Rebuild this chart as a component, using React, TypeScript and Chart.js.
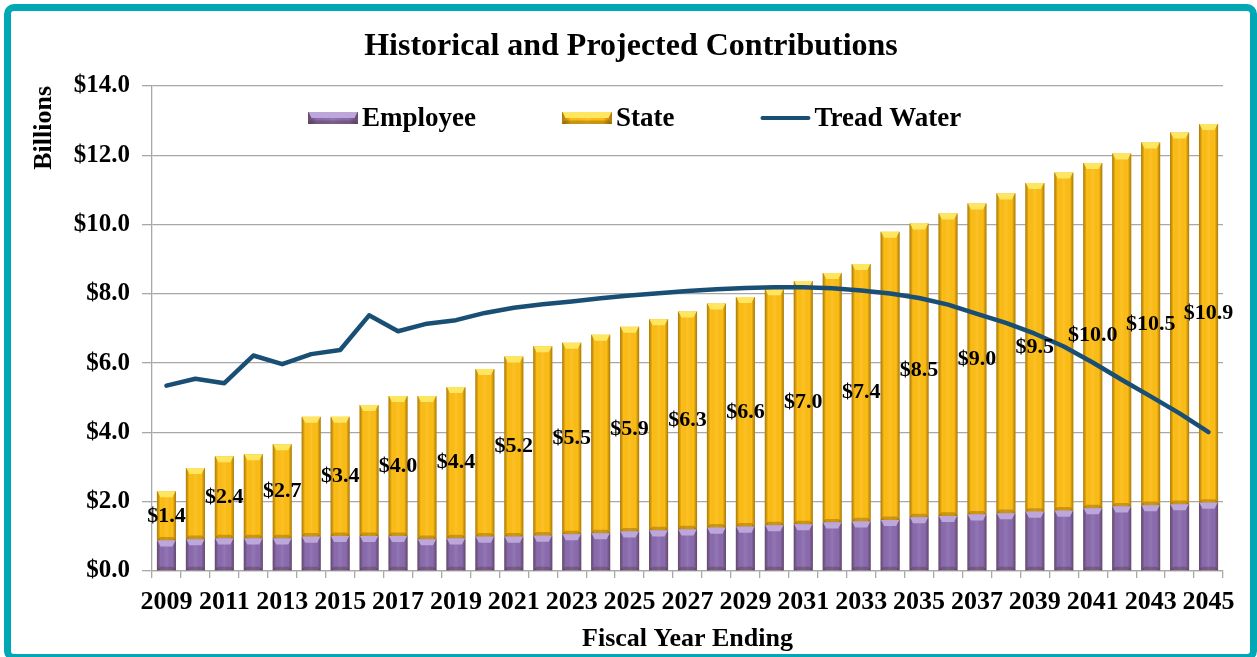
import React, { useEffect, useRef } from 'react';
import { Chart, registerables } from 'chart.js';

Chart.register(...registerables);

// ---------- data ----------
const years = [
  '2009', '2010', '2011', '2012', '2013', '2014', '2015', '2016', '2017', '2018',
  '2019', '2020', '2021', '2022', '2023', '2024', '2025', '2026', '2027', '2028',
  '2029', '2030', '2031', '2032', '2033', '2034', '2035', '2036', '2037', '2038',
  '2039', '2040', '2041', '2042', '2043', '2044', '2045',
];

const employee = [
  0.88, 0.92, 0.94, 0.94, 0.94, 0.99, 1.01, 1.01, 1.01, 0.92,
  0.94, 0.99, 0.99, 1.02, 1.06, 1.09, 1.14, 1.17, 1.20, 1.25,
  1.28, 1.32, 1.35, 1.40, 1.43, 1.47, 1.55, 1.59, 1.63, 1.67,
  1.71, 1.74, 1.81, 1.86, 1.90, 1.93, 1.97,
];

const state = [
  1.42, 2.05, 2.37, 2.43, 2.72, 3.46, 3.44, 3.78, 4.04, 4.13,
  4.37, 4.84, 5.20, 5.47, 5.53, 5.73, 5.91, 6.10, 6.29, 6.47,
  6.63, 6.81, 7.02, 7.20, 7.43, 8.32, 8.48, 8.73, 8.98, 9.23,
  9.49, 9.76, 9.97, 10.19, 10.47, 10.73, 10.93,
];

const treadWater = [
  5.35, 5.55, 5.42, 6.22, 5.97, 6.26, 6.38, 7.38, 6.92, 7.14,
  7.24, 7.45, 7.60, 7.70, 7.78, 7.87, 7.95, 8.02, 8.08, 8.13,
  8.17, 8.19, 8.19, 8.16, 8.10, 8.01, 7.88, 7.69, 7.42, 7.16,
  6.85, 6.48, 6.02, 5.52, 5.04, 4.55, 4.01,
];

const yMin = 0;
const yMax = 14;
const yStep = 2;

const titleText = 'Historical and Projected Contributions';
const yTitle = 'Billions';
const xTitle = 'Fiscal Year Ending';
const seriesNames = ['Employee', 'State', 'Tread Water'];

// ---------- styles ----------
const FONT = '"Liberation Serif", "Times New Roman", serif';
const PURPLE = '#8A6BAE';
const PURPLE_LIGHT = '#BCA6DA';
const GOLD = '#FDBD14';
const GOLD_LIGHT = '#FFE660';
const LINE = '#1A4F75';
const GRID = '#A8A8A8';
const FRAME = '#00A8B5';

const bevelLight: Record<string, string> = { Employee: PURPLE_LIGHT, State: GOLD_LIGHT };

function drawBevelRect(ctx: CanvasRenderingContext2D, l: number, top: number, w: number, h: number, light: string) {
  const r = l + w;
  const bot = top + h;
  const g = ctx.createLinearGradient(l, 0, r, 0);
  g.addColorStop(0, 'rgba(60,30,0,0.42)');
  g.addColorStop(0.18, 'rgba(0,0,0,0.0)');
  g.addColorStop(0.5, 'rgba(255,255,255,0.08)');
  g.addColorStop(0.82, 'rgba(0,0,0,0.0)');
  g.addColorStop(1, 'rgba(60,30,0,0.42)');
  ctx.fillStyle = g;
  ctx.fillRect(l, top, w, h);
  const bh = Math.min(6, h / 2);
  ctx.fillStyle = light;
  ctx.beginPath();
  ctx.moveTo(l + 0.5, top);
  ctx.lineTo(r - 0.5, top);
  ctx.lineTo(r - 3.5, top + bh);
  ctx.lineTo(l + 3.5, top + bh);
  ctx.closePath();
  ctx.fill();
  ctx.fillStyle = 'rgba(60,30,0,0.25)';
  ctx.beginPath();
  ctx.moveTo(l, bot);
  ctx.lineTo(r, bot);
  ctx.lineTo(r - 3, bot - bh * 0.6);
  ctx.lineTo(l + 3, bot - bh * 0.6);
  ctx.closePath();
  ctx.fill();
}

const bevelPlugin = {
  id: 'bevel',
  afterDatasetDraw(chart: any, args: any) {
    const ds = chart.data.datasets[args.index];
    if (ds.type !== 'bar') return;
    const light = bevelLight[ds.label];
    const ctx = chart.ctx as CanvasRenderingContext2D;
    ctx.save();
    args.meta.data.forEach((el: any) => {
      const p = el.getProps(['x', 'y', 'base', 'width'], true);
      const top = Math.min(p.y, p.base);
      const h = Math.abs(p.base - p.y);
      drawBevelRect(ctx, p.x - p.width / 2, top, p.width, h, light);
    });
    ctx.restore();
  },
};

const decorPlugin = {
  id: 'decor',
  afterDatasetsDraw(chart: any) {
    // data labels: state value, every other year, centred in the state segment
    const ctx = chart.ctx as CanvasRenderingContext2D;
    const yScale = chart.scales.y;
    const xScale = chart.scales.x;
    ctx.save();
    ctx.font = `bold 22px ${FONT}`;
    ctx.fillStyle = '#000';
    ctx.textAlign = 'center';
    ctx.textBaseline = 'middle';
    for (let i = 0; i < years.length; i += 2) {
      const x = xScale.getPixelForValue(i);
      const y = yScale.getPixelForValue(employee[i] + state[i] / 2);
      ctx.fillText('$' + state[i].toFixed(1), x, y);
    }
    ctx.restore();
  },
  afterDraw(chart: any) {
    const ctx = chart.ctx as CanvasRenderingContext2D;
    ctx.save();
    // title
    ctx.font = `bold 32px ${FONT}`;
    ctx.fillStyle = '#000';
    ctx.textAlign = 'center';
    ctx.textBaseline = 'middle';
    ctx.fillText(titleText, 631, 47);

    // legend
    ctx.font = `bold 27px ${FONT}`;
    ctx.textAlign = 'left';
    const ly = 118;
    let x = 308;
    const boxW = 50;
    const boxH = 12;
    const fills = [PURPLE, GOLD];
    const lights = [PURPLE_LIGHT, GOLD_LIGHT];
    seriesNames.forEach((name, i) => {
      if (i < 2) {
        ctx.fillStyle = fills[i];
        ctx.fillRect(x, ly - boxH / 2, boxW, boxH);
        ctx.save();
        drawBevelRect(ctx, x, ly - boxH / 2, boxW, boxH, lights[i]);
        ctx.restore();
      } else {
        ctx.strokeStyle = LINE;
        ctx.lineWidth = 4;
        ctx.lineCap = 'round';
        ctx.beginPath();
        ctx.moveTo(x + 2, ly);
        ctx.lineTo(x + boxW - 2, ly);
        ctx.stroke();
      }
      ctx.fillStyle = '#000';
      ctx.fillText(name, x + boxW + 4, ly + 1);
      x += boxW + 4 + ctx.measureText(name).width + 86;
    });
    ctx.restore();
  },
};

export default function App() {
  const ref = useRef<HTMLCanvasElement>(null);

  useEffect(() => {
    const canvas = ref.current;
    if (!canvas) return;
    const chart = new Chart(canvas, {
      type: 'bar',
      data: {
        labels: years,
        datasets: [
          {
            type: 'line',
            label: seriesNames[2],
            data: treadWater,
            borderColor: LINE,
            backgroundColor: LINE,
            borderWidth: 4.5,
            pointRadius: 0,
            tension: 0,
            borderCapStyle: 'round',
            borderJoinStyle: 'round',
            stack: 'tread',
            order: 0,
          } as any,
          {
            type: 'bar',
            label: seriesNames[0],
            data: employee,
            backgroundColor: PURPLE,
            stack: 'contrib',
            order: 1,
            barPercentage: 0.66,
            categoryPercentage: 1,
          },
          {
            type: 'bar',
            label: seriesNames[1],
            data: state,
            backgroundColor: GOLD,
            stack: 'contrib',
            order: 2,
            barPercentage: 0.66,
            categoryPercentage: 1,
          },
        ],
      },
      options: {
        responsive: false,
        maintainAspectRatio: false,
        animation: false,
        devicePixelRatio: 1,
        layout: { padding: { top: 86, right: 34, bottom: 0, left: 0 } },
        plugins: {
          legend: { display: false },
          title: { display: false },
          tooltip: { enabled: false },
        },
        scales: {
          x: {
            stacked: true,
            offset: true,
            grid: {
              display: true,
              drawOnChartArea: false,
              drawTicks: true,
              tickLength: 7,
              offset: true,
              color: GRID,
              lineWidth: 1.3,
            },
            border: { color: GRID, width: 1.3 },
            ticks: {
              autoSkip: false,
              maxRotation: 0,
              minRotation: 0,
              color: '#000',
              padding: 9,
              font: { family: FONT, size: 26, weight: 'bold' },
              callback: (_v: any, i: number) => (i % 2 === 0 ? years[i] : ''),
            },
            title: {
              display: true,
              text: xTitle,
              color: '#000',
              font: { family: FONT, size: 26, weight: 'bold' },
              padding: { top: 0, bottom: 2 },
            },
            afterFit: (s: any) => {
              s.height = 86;
            },
          },
          y: {
            stacked: true,
            min: yMin,
            max: yMax,
            grid: {
              color: GRID,
              lineWidth: 1.3,
              drawTicks: true,
              tickLength: 10,
            },
            border: { color: GRID, width: 1.3 },
            ticks: {
              stepSize: yStep,
              color: '#000',
              padding: 12,
              font: { family: FONT, size: 25, weight: 'bold' },
              callback: (v: any) => '$' + Number(v).toFixed(1),
            },
            title: {
              display: true,
              text: yTitle,
              align: 'end',
              color: '#000',
              font: { family: FONT, size: 26, weight: 'bold' },
              padding: { top: 29, bottom: 0 },
            },
            afterFit: (s: any) => {
              s.width = 152;
            },
          },
        },
      } as any,
      plugins: [bevelPlugin, decorPlugin],
    });
    return () => chart.destroy();
  }, []);

  return (
    <div
      style={{
        position: 'absolute',
        left: 0,
        top: 0,
        width: 1257,
        height: 657,
        background: '#fff',
        overflow: 'hidden',
      }}
    >
      <canvas
        ref={ref}
        width={1257}
        height={657}
        style={{ position: 'absolute', left: 0, top: 0, width: 1257, height: 657 }}
      />
      <div
        style={{
          position: 'absolute',
          left: 4,
          top: 4,
          width: 1253,
          height: 657,
          boxSizing: 'border-box',
          border: `7px solid ${FRAME}`,
          borderRadius: 10,
          pointerEvents: 'none',
        }}
      />
    </div>
  );
}
